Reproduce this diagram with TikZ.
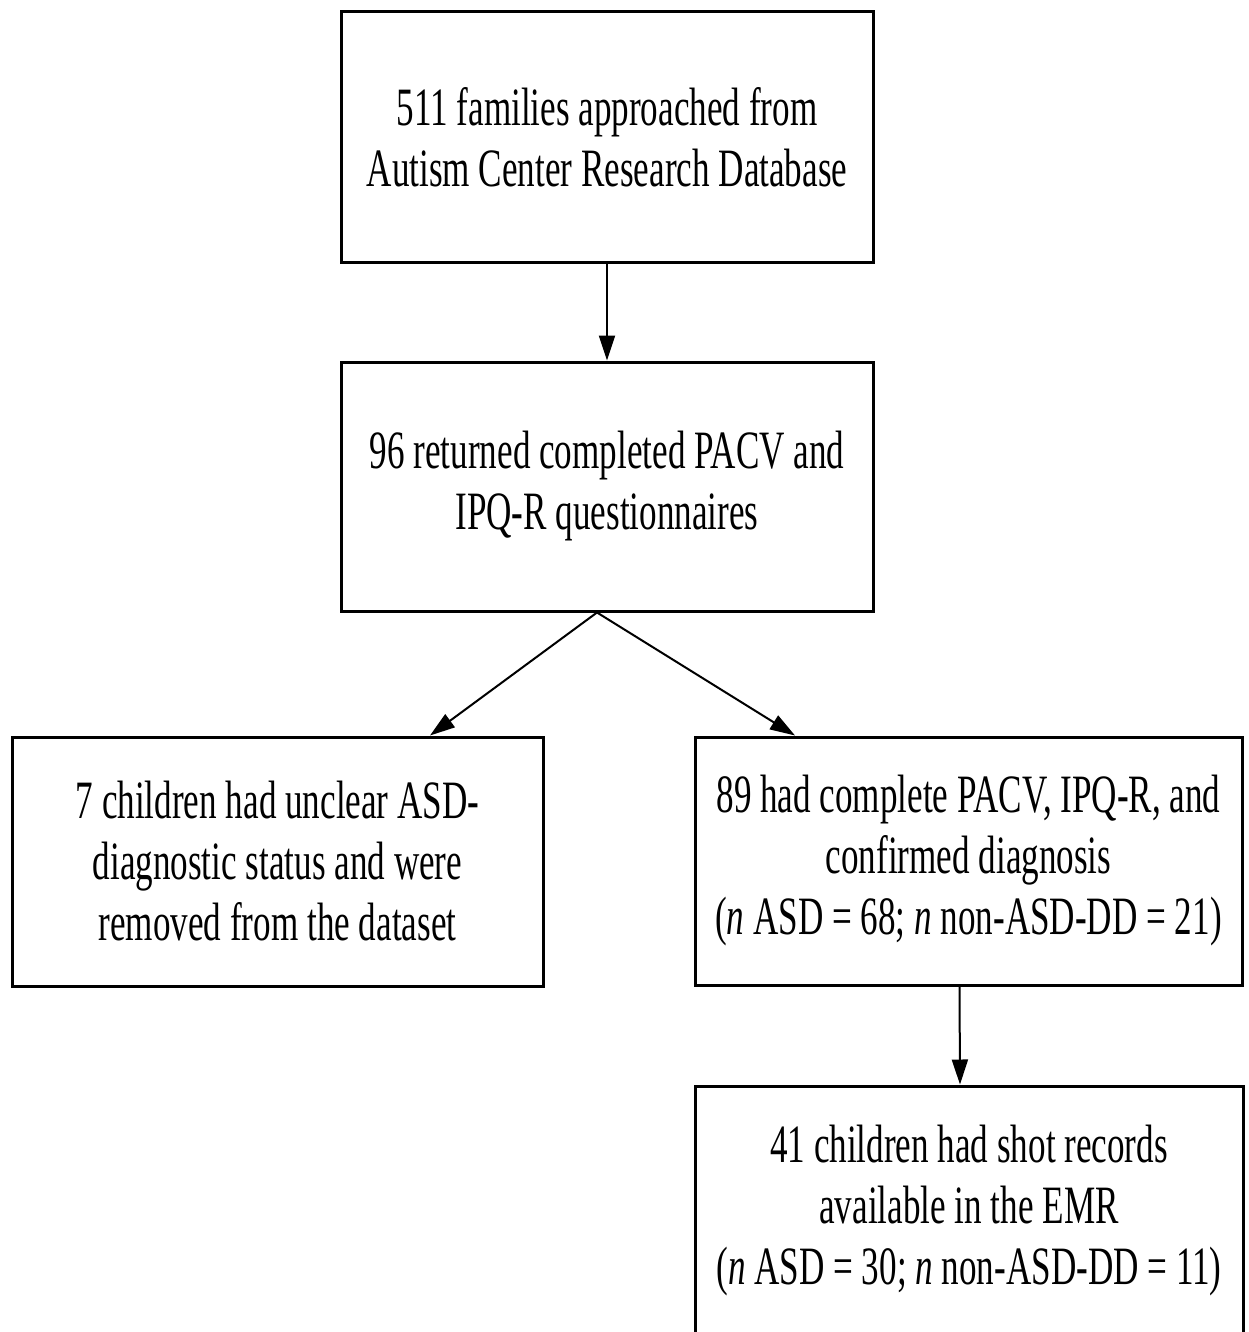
\documentclass[tikz,border=0pt]{standalone}
\usepackage{fontspec}
\usetikzlibrary{arrows.meta}
\newfontfamily\tf[FakeStretch=0.65]{Liberation Serif}
\begin{document}
\begin{tikzpicture}[x=1pt,y=-1pt,
  box/.style={draw, line width=3pt, inner sep=0pt, align=center,
    font=\tf\fontsize{54pt}{61pt}\selectfont},
  arr/.style={line width=2pt, -{Triangle[length=25pt,width=16pt]}}]
\path[use as bounding box, clip] (0,0) rectangle (1248,1332);
\fill[white] (0,0) rectangle (1248,1332);
\node[box, minimum width=532pt, minimum height=250pt] (b1) at (607,137)
  {511 families approached from\\Autism Center Research Database};
\node[box, minimum width=532pt, minimum height=249pt] (b2) at (607,486.5)
  {96 returned completed PACV and\\IPQ-R questionnaires};
\node[box, minimum width=531pt, minimum height=249pt] (bl) at (277.5,861.5)
  {7 children had unclear ASD-\\diagnostic status and were\\removed from the dataset};
\node[box, minimum width=547pt, minimum height=248pt] (br) at (968.5,861)
  {89 had complete PACV, IPQ-R, and\\confirmed diagnosis\\(\textit{n} ASD = 68; \textit{n} non-ASD-DD = 21)};
\node[box, minimum width=548pt, minimum height=249pt] (bb) at (969,1210.5)
  {41 children had shot records\\available in the EMR\\(\textit{n} ASD = 30; \textit{n} non-ASD-DD = 11)};
\coordinate (split) at ([xshift=-10pt]b2.south);
\draw[arr] (b1.south) -- (b2.north);
\draw[arr] (split) -- ([xshift=152.5pt]bl.north);
\draw[arr] (split) -- ([xshift=-173.5pt]br.north);
\draw[arr] ([xshift=-9pt]br.south) -- ([xshift=-9pt]bb.north);
\end{tikzpicture}
\end{document}
